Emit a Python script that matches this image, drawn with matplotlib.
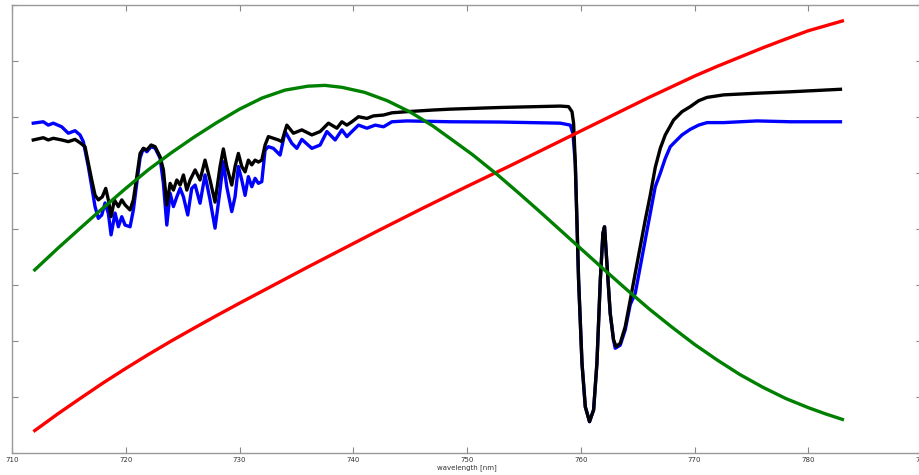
import matplotlib
matplotlib.use("Agg")
import matplotlib.pyplot as plt

# Measured spectrum (blue) and modelled spectrum (black) across the water band and O2 A-band
wl_blue = [711.87, 712.75, 713.19, 713.63, 714.37, 714.95, 715.54, 715.98, 716.27, 716.71,
           717.01, 717.30, 717.59, 717.89, 718.18, 718.47, 718.71, 719.06, 719.35, 719.65,
           719.94, 720.38, 720.67, 720.97, 721.26, 721.55, 721.85, 722.23, 722.58, 723.02,
           723.31, 723.61, 723.90, 724.19, 724.49, 724.78, 725.07, 725.45, 725.80, 726.10,
           726.53, 726.97, 727.41, 727.85, 728.29, 728.58, 728.88, 729.32, 729.61, 729.90,
           730.20, 730.49, 730.78, 731.08, 731.37, 731.66, 731.96, 732.25, 732.54, 732.98,
           733.57, 734.01, 734.60, 735.04, 735.48, 736.36, 737.09, 737.68, 738.41, 739.00,
           739.44, 739.88, 740.46, 741.20, 741.93, 742.66, 743.40, 744.71, 748.52, 752.92,
           758.20, 759.08, 759.31, 759.52, 759.81, 760.11, 760.40, 760.77, 761.13, 761.42,
           761.72, 761.95, 762.09, 762.30, 762.59, 762.88, 763.03, 763.47, 763.91, 764.35,
           764.79, 765.23, 765.67, 766.11, 766.55, 766.99, 767.43, 767.87, 768.16, 768.90,
           769.63, 770.36, 771.10, 772.56, 775.50, 778.43, 782.83]
blue = [1.178, 1.183, 1.171, 1.178, 1.165, 1.142, 1.151, 1.136, 1.112, 1.023,
        0.951, 0.880, 0.838, 0.850, 0.893, 0.856, 0.779, 0.857, 0.808, 0.844,
        0.814, 0.808, 0.868, 0.964, 1.054, 1.088, 1.076, 1.094, 1.089, 1.053,
        0.963, 0.814, 0.928, 0.880, 0.915, 0.945, 0.915, 0.850, 0.945, 0.957,
        0.892, 0.993, 0.904, 0.803, 0.939, 1.040, 0.951, 0.862, 0.915, 1.023,
        0.975, 0.920, 0.987, 0.951, 0.981, 0.963, 0.969, 1.082, 1.094, 1.088,
        1.064, 1.148, 1.106, 1.088, 1.120, 1.088, 1.100, 1.148, 1.118, 1.154,
        1.130, 1.148, 1.171, 1.160, 1.171, 1.165, 1.183, 1.186, 1.183, 1.182,
        1.178, 1.171, 1.142, 1.035, 0.618, 0.320, 0.165, 0.112, 0.154, 0.320,
        0.618, 0.785, 0.808, 0.677, 0.499, 0.404, 0.374, 0.385, 0.440, 0.530,
        0.570, 0.665, 0.761, 0.856, 0.951, 0.999, 1.052, 1.094, 1.106, 1.136,
        1.156, 1.171, 1.180, 1.180, 1.186, 1.183, 1.183]

wl_black = [711.87, 712.75, 713.19, 713.63, 714.37, 714.95, 715.54, 715.98, 716.42, 716.71,
            717.01, 717.30, 717.59, 717.94, 718.24, 718.47, 718.71, 719.00, 719.35, 719.65,
            719.94, 720.38, 720.67, 720.97, 721.26, 721.55, 721.85, 722.23, 722.58, 723.02,
            723.31, 723.61, 723.90, 724.19, 724.49, 724.78, 725.07, 725.37, 725.66, 726.10,
            726.53, 726.97, 727.41, 727.85, 728.29, 728.58, 728.88, 729.32, 729.61, 729.90,
            730.20, 730.49, 730.78, 731.08, 731.37, 731.66, 731.96, 732.25, 732.54, 732.98,
            733.42, 733.72, 734.16, 734.74, 735.48, 736.36, 737.09, 737.82, 738.56, 739.00,
            739.44, 739.88, 740.46, 741.20, 741.78, 742.66, 743.40, 744.71, 747.05, 748.52,
            752.92, 758.20, 758.93, 759.23, 759.37, 759.52, 759.81, 760.11, 760.40, 760.77,
            761.13, 761.42, 761.72, 761.95, 762.09, 762.30, 762.59, 762.88, 763.12, 763.47,
            763.91, 764.35, 764.79, 765.23, 765.67, 766.11, 766.55, 766.99, 767.43, 768.16,
            768.90, 769.63, 770.36, 771.10, 772.56, 775.50, 778.43, 782.83]
black = [1.118, 1.126, 1.118, 1.124, 1.118, 1.112, 1.120, 1.108, 1.094, 1.035,
         0.975, 0.921, 0.904, 0.915, 0.945, 0.904, 0.844, 0.904, 0.880, 0.904,
         0.886, 0.868, 0.904, 0.987, 1.070, 1.088, 1.082, 1.100, 1.094, 1.058,
         1.011, 0.886, 0.963, 0.939, 0.975, 0.957, 0.993, 0.939, 0.975, 1.011,
         0.975, 1.046, 0.975, 0.896, 1.023, 1.086, 1.023, 0.957, 1.023, 1.070,
         1.023, 1.004, 1.046, 1.029, 1.046, 1.039, 1.046, 1.100, 1.130, 1.124,
         1.118, 1.112, 1.171, 1.142, 1.154, 1.136, 1.148, 1.178, 1.160, 1.183,
         1.171, 1.183, 1.201, 1.195, 1.204, 1.207, 1.215, 1.219, 1.225, 1.228,
         1.234, 1.239, 1.237, 1.219, 1.178, 1.035, 0.618, 0.320, 0.165, 0.112,
         0.154, 0.320, 0.618, 0.785, 0.808, 0.677, 0.499, 0.404, 0.380, 0.392,
         0.451, 0.546, 0.642, 0.737, 0.832, 0.921, 1.020, 1.088, 1.136, 1.189,
         1.219, 1.237, 1.258, 1.270, 1.279, 1.285, 1.290, 1.299]

# Smooth reference curves
wl_red = [712, 714, 716, 718, 720, 722, 724, 726, 728, 730, 732, 734, 736, 738,
          740, 742, 744, 746, 748, 750, 752, 754, 756, 758, 760, 762, 764, 766,
          768, 770, 772, 774, 776, 778, 780, 783]
red = [0.080, 0.139, 0.195, 0.250, 0.302, 0.352, 0.400, 0.446, 0.491, 0.535, 0.578,
       0.621, 0.664, 0.706, 0.748, 0.790, 0.831, 0.872, 0.912, 0.952, 0.991, 1.030,
       1.070, 1.110, 1.150, 1.190, 1.230, 1.270, 1.308, 1.346, 1.381, 1.414, 1.447,
       1.478, 1.508, 1.543]

wl_green = [712, 714, 716, 718, 720, 722, 724, 726, 728, 730, 732, 734, 736, 737.5,
            739, 741, 743, 745, 747, 748.5, 750.5, 752.7, 754.5, 756.4, 758.2, 760,
            762, 764, 766, 768, 770, 772, 774, 776, 778, 780, 781.5, 783]
green = [0.654, 0.730, 0.803, 0.875, 0.945, 1.012, 1.072, 1.128, 1.180, 1.228, 1.268,
         1.296, 1.310, 1.313, 1.306, 1.288, 1.258, 1.218, 1.168, 1.124, 1.065, 0.993,
         0.930, 0.862, 0.796, 0.730, 0.657, 0.585, 0.515, 0.450, 0.388, 0.332, 0.280,
         0.235, 0.195, 0.162, 0.140, 0.120]

x_ticks = [710, 720, 730, 740, 750, 760, 770, 780, 790]

fig = plt.figure(figsize=(9.2, 4.75), dpi=100)
ax = fig.add_axes([12 / 920, 22 / 475, 910 / 920, 448 / 475])

lw = 2.4
ax.plot(wl_blue, blue, color="#0000ff", lw=lw)
ax.plot(wl_black, black, color="#000000", lw=lw)
ax.plot(wl_red, red, color="#ff0000", lw=lw)
ax.plot(wl_green, green, color="#008000", lw=lw)

ax.set_xlim(710, 790)
ax.set_ylim(0, 1.6)
ax.set_xticks(x_ticks)
ax.set_xticklabels([str(t) for t in x_ticks])
ax.set_yticks([0.2 * i for i in range(9)])
ax.set_yticklabels([])
ax.tick_params(direction="in", length=4, width=0.8, color="#888888",
               top=True, right=True, labelsize=5, labelcolor="#333333", pad=3)
for s in ax.spines.values():
    s.set_color("#999999")
    s.set_linewidth(1.0)
ax.set_xlabel("wavelength [nm]", fontsize=5, color="#333333", labelpad=1)

fig.savefig("out.png", dpi=100)
